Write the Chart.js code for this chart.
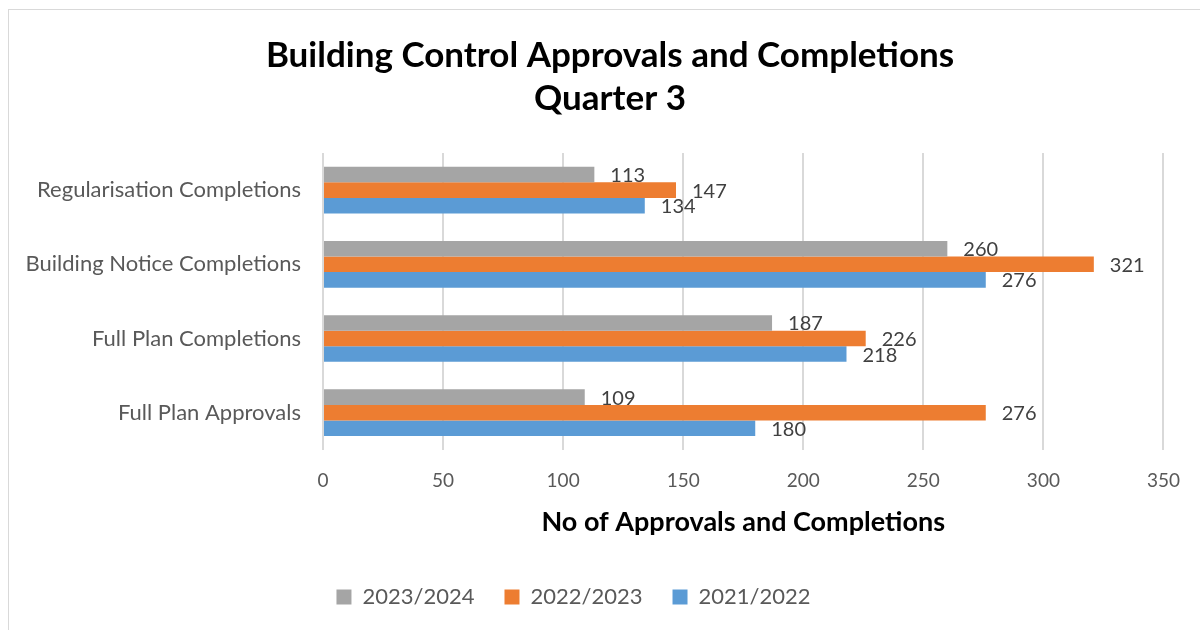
<!DOCTYPE html>
<html>
<head>
<meta charset="utf-8">
<script src="https://cdn.jsdelivr.net/npm/chart.js@4/dist/chart.umd.min.js"></script>
<style>
html,body{margin:0;padding:0;background:#fff;overflow:hidden;}
#wrap{position:relative;width:1200px;height:630px;}
#frame{position:absolute;left:8px;top:9px;width:1300px;height:700px;border-top:1px solid #d9d9d9;border-left:1px solid #d9d9d9;pointer-events:none;}
canvas{position:absolute;left:0;top:0;}
</style>
</head>
<body>
<div id="wrap">
<canvas id="c" width="1200" height="630"></canvas>
<div id="frame"></div>
</div>
<script>
const categories = ['Regularisation Completions','Building Notice Completions','Full Plan Completions','Full Plan Approvals'];
const seriesNames = ['2023/2024','2022/2023','2021/2022'];
const values2023_24 = [113, 260, 187, 109];
const values2022_23 = [147, 321, 226, 276];
const values2021_22 = [134, 276, 218, 180];
const xTicks = [0,50,100,150,200,250,300,350];
const titleLines = ['Building Control Approvals and Completions','Quarter 3'];
const xAxisTitle = 'No of Approvals and Completions';

const FONT = 'Lato, Carlito, Calibri, sans-serif';

const labelPlugin = {
  id: 'barLabels',
  afterDatasetsDraw(chart) {
    const ctx = chart.ctx;
    ctx.save();
    ctx.font = '20px ' + FONT;
    ctx.fillStyle = '#404040';
    ctx.textAlign = 'left';
    ctx.textBaseline = 'middle';
    chart.data.datasets.forEach((ds, i) => {
      const meta = chart.getDatasetMeta(i);
      meta.data.forEach((el, j) => {
        ctx.fillText(String(ds.data[j]), el.x + 16, el.y + 1);
      });
    });
    ctx.restore();
  }
};

const titlePlugin = {
  id: 'mainTitle',
  afterDraw(chart) {
    const ctx = chart.ctx;
    ctx.save();
    ctx.font = 'bold 35px ' + FONT;
    ctx.fillStyle = '#000';
    ctx.textAlign = 'center';
    ctx.textBaseline = 'middle';
    titleLines.forEach((t, i) => ctx.fillText(t, 610, 56 + i * 43));
    ctx.restore();
  }
};

new Chart(document.getElementById('c'), {
  type: 'bar',
  data: {
    labels: categories,
    datasets: [
      {label: seriesNames[0], data: values2023_24, backgroundColor: '#A5A5A5'},
      {label: seriesNames[1], data: values2022_23, backgroundColor: '#ED7D31'},
      {label: seriesNames[2], data: values2021_22, backgroundColor: '#5B9BD5'}
    ]
  },
  options: {
    indexAxis: 'y',
    responsive: false,
    animation: false,
    devicePixelRatio: 1,
    datasets: {bar: {categoryPercentage: 0.63, barPercentage: 1.0}},
    layout: {padding: {left: -18, right: 35, top: 153, bottom: 12}},
    plugins: {
      title: {display: false},
      legend: {
        position: 'bottom',
        labels: {
          color: '#595959',
          font: {family: FONT, size: 22},
          boxWidth: 15, boxHeight: 15,
          padding: 30
        }
      },
      tooltip: {enabled: false}
    },
    scales: {
      x: {
        min: 0, max: 350,
        afterBuildTicks(s) { s.ticks = xTicks.map(v => ({value: v})); },
        grid: {color: '#D9D9D9', lineWidth: 2, drawTicks: false},
        border: {display: false},
        ticks: {color: '#595959', font: {family: FONT, size: 19}, padding: 20},
        title: {display: true, text: xAxisTitle, color: '#000', font: {family: FONT, size: 27, weight: 'bold'}, padding: {top: -7, bottom: 18}}
      },
      y: {
        afterFit(s) { s.width = 341; },
        grid: {display: false, drawTicks: false},
        border: {display: false},
        ticks: {color: '#595959', font: {family: FONT, size: 22}, padding: 22}
      }
    }
  },
  plugins: [labelPlugin, titlePlugin]
});
</script>
</body>
</html>
